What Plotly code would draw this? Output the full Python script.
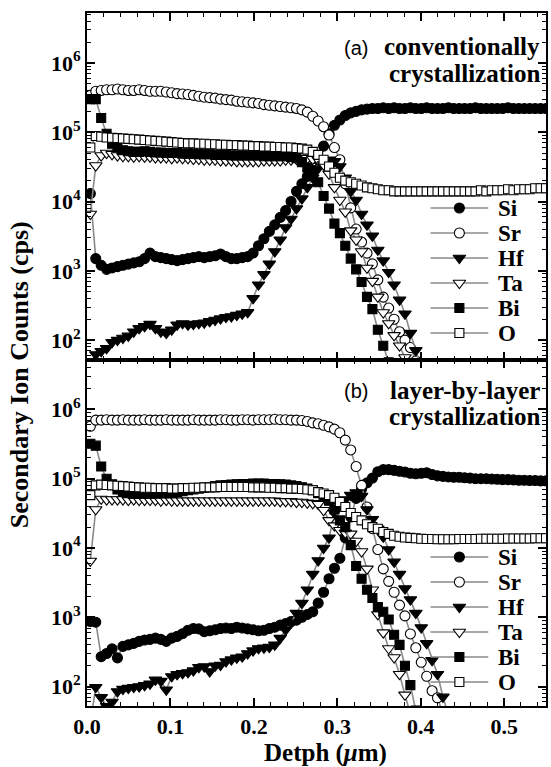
import plotly.graph_objects as go

# Sputter depth of each SIMS cycle (um)
depth = [0.0040, 0.0105, 0.0170, 0.0235, 0.0300, 0.0365, 0.0430, 0.0495, 0.0560, 0.0625,
         0.0690, 0.0755, 0.0820, 0.0885, 0.0950, 0.1015, 0.1080, 0.1145, 0.1210, 0.1275,
         0.1340, 0.1405, 0.1470, 0.1535, 0.1600, 0.1665, 0.1730, 0.1795, 0.1860, 0.1925,
         0.1990, 0.2055, 0.2120, 0.2185, 0.2250, 0.2315, 0.2380, 0.2445, 0.2510, 0.2575,
         0.2640, 0.2705, 0.2770, 0.2835, 0.2900, 0.2965, 0.3030, 0.3095, 0.3160, 0.3225,
         0.3290, 0.3355, 0.3420, 0.3485, 0.3550, 0.3615, 0.3680, 0.3745, 0.3810, 0.3875,
         0.3940, 0.4005, 0.4070, 0.4135, 0.4200, 0.4265, 0.4330, 0.4395, 0.4460, 0.4525,
         0.4590, 0.4655, 0.4720, 0.4785, 0.4850, 0.4915, 0.4980, 0.5045, 0.5110, 0.5175,
         0.5240, 0.5305, 0.5370, 0.5435, 0.5500]

# (a) conventionally crystallized film, counts per second
si_a = [1.3e4, 1.5e3, 1.2e3, 1.05e3, 1.1e3, 1.15e3, 1.2e3, 1.25e3, 1.3e3, 1.35e3,
        1.5e3, 1.8e3, 1.6e3, 1.55e3, 1.5e3, 1.45e3, 1.4e3, 1.45e3, 1.5e3, 1.55e3,
        1.6e3, 1.55e3, 1.6e3, 1.65e3, 1.75e3, 1.6e3, 1.5e3, 1.5e3, 1.55e3, 1.6e3,
        1.8e3, 2.3e3, 2.9e3, 3.7e3, 4.6e3, 5.9e3, 7.4e3, 1.0e4, 1.4e4, 1.8e4,
        2.3e4, 2.8e4, 4.0e4, 6.3e4, 9.5e4, 1.26e5, 1.5e5, 1.74e5, 1.9e5, 2.0e5,
        2.1e5, 2.15e5, 2.2e5, 2.2e5, 2.25e5, 2.2e5, 2.25e5, 2.2e5, 2.2e5, 2.25e5,
        2.2e5, 2.2e5, 2.25e5, 2.2e5, 2.2e5, 2.2e5, 2.25e5, 2.2e5, 2.2e5, 2.2e5,
        2.2e5, 2.25e5, 2.2e5, 2.2e5, 2.2e5, 2.2e5, 2.2e5, 2.25e5, 2.2e5, 2.2e5,
        2.2e5, 2.2e5, 2.2e5, 2.2e5, 2.2e5]
sr_a = [3.4e5, 3.9e5, 4.0e5, 4.1e5, 4.1e5, 4.2e5, 4.1e5, 4.0e5, 4.0e5, 4.1e5,
        4.0e5, 3.9e5, 3.9e5, 3.9e5, 3.8e5, 3.7e5, 3.6e5, 3.55e5, 3.5e5, 3.4e5,
        3.3e5, 3.2e5, 3.15e5, 3.1e5, 3.0e5, 2.95e5, 2.9e5, 2.8e5, 2.75e5, 2.7e5,
        2.65e5, 2.6e5, 2.5e5, 2.45e5, 2.4e5, 2.35e5, 2.3e5, 2.25e5, 2.2e5, 2.1e5,
        1.95e5, 1.7e5, 1.45e5, 1.2e5, 9.1e4, 6.0e4, 4.0e4, 1.8e4, 8.1e3, 4.0e3,
        2.6e3, 1.8e3, 1.26e3, 740, 417, 290, 200, 132, 100, 78, 50]
hf_a = [40, 62, 69, 76, 93, 100, 107, 115, 132, 148,
        158, 170, 148, 132, 126, 141, 166, 174, 166, 170,
        174, 178, 186, 195, 204, 214, 219, 229, 240, 251,
        400, 630, 890, 1.26e3, 1.9e3, 2.8e3, 4.2e3, 5.6e3, 7.9e3, 1.1e4,
        1.6e4, 2.2e4, 3.0e4, 3.6e4, 4.0e4, 3.8e4, 3.2e4, 2.2e4, 1.4e4, 1.05e4,
        6.6e3, 4.6e3, 3.2e3, 2.0e3, 1.4e3, 955, 630, 380, 240, 126, 71, 40]
ta_a = [6.6e3, 3.3e4, 4.6e4, 5.0e4, 4.8e4, 4.6e4, 4.5e4, 4.5e4, 4.4e4, 4.5e4,
        4.4e4, 4.4e4, 4.3e4, 4.3e4, 4.3e4, 4.2e4, 4.3e4, 4.2e4, 4.2e4, 4.1e4,
        4.1e4, 4.0e4, 4.0e4, 4.0e4, 3.9e4, 3.9e4, 3.9e4, 3.8e4, 3.8e4, 3.8e4,
        3.8e4, 3.8e4, 3.9e4, 3.9e4, 3.9e4, 3.9e4, 4.0e4, 4.0e4, 4.1e4, 4.1e4,
        4.2e4, 4.1e4, 4.0e4, 3.4e4, 2.5e4, 1.6e4, 1.05e4, 7.1e3, 3.8e3, 2.8e3,
        1.9e3, 1.1e3, 710, 420, 250, 174, 117, 83, 56, 40]
bi_a = [3.0e5, 3.0e5, 1.6e5, 9.5e4, 6.8e4, 6.0e4, 5.5e4, 5.3e4, 5.2e4, 5.2e4,
        5.3e4, 5.2e4, 5.1e4, 5.1e4, 5.0e4, 5.0e4, 5.0e4, 4.9e4, 4.9e4, 4.9e4,
        4.8e4, 4.8e4, 4.8e4, 4.7e4, 4.7e4, 4.7e4, 4.6e4, 4.6e4, 4.6e4, 4.6e4,
        4.6e4, 4.6e4, 4.5e4, 4.5e4, 4.5e4, 4.5e4, 4.5e4, 4.4e4, 4.2e4, 3.7e4,
        3.1e4, 2.5e4, 1.9e4, 1.2e4, 7.9e3, 4.8e3, 3.5e3, 2.3e3, 1.5e3, 1.05e3,
        690, 420, 280, 141, 83, 48]
o_a = [6.0e4, 8.8e4, 8.6e4, 8.4e4, 8.3e4, 8.2e4, 8.1e4, 8.0e4, 7.9e4, 7.8e4,
       7.7e4, 7.6e4, 7.5e4, 7.4e4, 7.3e4, 7.2e4, 7.1e4, 7.0e4, 6.9e4, 6.9e4,
       6.8e4, 6.8e4, 6.7e4, 6.7e4, 6.6e4, 6.6e4, 6.5e4, 6.5e4, 6.4e4, 6.4e4,
       6.3e4, 6.3e4, 6.2e4, 6.2e4, 6.1e4, 6.1e4, 6.0e4, 6.0e4, 5.9e4, 5.8e4,
       5.6e4, 5.2e4, 4.7e4, 4.0e4, 3.2e4, 2.6e4, 2.2e4, 2.0e4, 1.9e4, 1.8e4,
       1.7e4, 1.6e4, 1.55e4, 1.5e4, 1.45e4, 1.45e4, 1.4e4, 1.4e4, 1.4e4, 1.4e4,
       1.4e4, 1.4e4, 1.4e4, 1.4e4, 1.4e4, 1.4e4, 1.4e4, 1.4e4, 1.4e4, 1.4e4,
       1.4e4, 1.4e4, 1.45e4, 1.4e4, 1.45e4, 1.45e4, 1.45e4, 1.5e4, 1.45e4, 1.5e4,
       1.5e4, 1.5e4, 1.55e4, 1.55e4, 1.55e4]

# (b) layer-by-layer crystallized film, counts per second
si_b = [870, 850, 270, 300, 350, 260, 380, 400, 420, 450,
        470, 480, 500, 480, 450, 500, 530, 580, 650, 690,
        680, 620, 640, 660, 690, 700, 690, 720, 700, 680,
        660, 640, 650, 690, 720, 770, 810, 870, 910, 1.0e3,
        1.1e3, 1.2e3, 1.6e3, 2.3e3, 3.6e3, 5.1e3, 7.1e3, 1.4e4, 2.8e4, 5.2e4,
        7.1e4, 8.7e4, 1.02e5, 1.26e5, 1.35e5, 1.35e5, 1.32e5, 1.28e5, 1.25e5, 1.2e5,
        1.18e5, 1.2e5, 1.22e5, 1.15e5, 1.1e5, 1.08e5, 1.06e5, 1.05e5, 1.05e5, 1.03e5,
        1.02e5, 1.0e5, 1.0e5, 1.0e5, 9.9e4, 9.8e4, 9.7e4, 9.7e4, 9.6e4, 9.5e4,
        9.5e4, 9.4e4, 9.4e4, 9.3e4, 9.3e4]
sr_b = [5.7e5, 7.0e5, 7.0e5, 7.1e5, 7.0e5, 7.0e5, 7.1e5, 7.0e5, 7.0e5, 7.0e5,
        7.1e5, 7.0e5, 7.0e5, 7.0e5, 7.1e5, 7.0e5, 7.0e5, 7.0e5, 7.0e5, 7.1e5,
        7.0e5, 7.0e5, 7.0e5, 7.0e5, 7.1e5, 7.1e5, 7.0e5, 7.0e5, 7.1e5, 7.1e5,
        7.0e5, 7.1e5, 7.1e5, 7.1e5, 7.2e5, 7.1e5, 7.1e5, 7.0e5, 7.0e5, 6.9e5,
        6.7e5, 6.4e5, 6.2e5, 5.9e5, 5.6e5, 5.2e5, 4.6e5, 3.6e5, 2.6e5, 1.5e5,
        8.0e4, 3.9e4, 1.9e4, 9.5e3, 5.0e3, 3.3e3, 2.3e3, 1.5e3, 1.05e3, 575,
        363, 224, 141, 87, 69, 40]
hf_b = [30, 98, 70, 52, 60, 85, 92, 95, 98, 100,
        104, 110, 125, 120, 90, 140, 150, 155, 160, 170,
        190, 195, 165, 200, 205, 230, 245, 260, 270, 300,
        330, 355, 363, 372, 400, 500, 660, 830, 1.15e3, 1.6e3,
        2.5e3, 4.2e3, 6.6e3, 1.0e4, 1.4e4, 3.2e4, 4.2e4, 5.0e4, 5.8e4, 6.3e4,
        5.6e4, 3.6e4, 2.6e4, 1.9e4, 1.45e4, 9.5e3, 6.3e3, 4.2e3, 2.6e3, 1.8e3,
        1.15e3, 710, 420, 240, 151, 71, 40]
ta_b = [6.5e3, 3.6e4, 5.1e4, 5.0e4, 5.0e4, 5.0e4, 5.0e4, 4.9e4, 5.0e4, 4.9e4,
        4.9e4, 4.9e4, 4.9e4, 4.8e4, 4.9e4, 4.8e4, 4.8e4, 4.8e4, 4.8e4, 4.8e4,
        4.8e4, 4.8e4, 4.8e4, 4.8e4, 4.8e4, 4.8e4, 4.8e4, 4.8e4, 4.8e4, 4.8e4,
        4.8e4, 4.8e4, 4.8e4, 4.8e4, 4.8e4, 4.7e4, 4.7e4, 4.7e4, 4.6e4, 4.6e4,
        4.5e4, 4.4e4, 4.3e4, 3.5e4, 2.5e4, 2.1e4, 1.8e4, 1.65e4, 1.6e4, 1.26e4,
        8.9e3, 5.0e3, 2.5e3, 1.1e3, 600, 355, 263, 151, 76, 40]
bi_b = [3.2e5, 3.0e5, 1.5e5, 1.0e5, 8.3e4, 7.0e4, 6.5e4, 6.2e4, 6.0e4, 6.0e4,
        6.0e4, 6.0e4, 6.1e4, 6.1e4, 6.2e4, 6.3e4, 6.4e4, 6.6e4, 6.8e4, 7.0e4,
        7.2e4, 7.4e4, 7.6e4, 7.8e4, 8.0e4, 8.1e4, 8.2e4, 8.3e4, 8.4e4, 8.4e4,
        8.5e4, 8.5e4, 8.5e4, 8.4e4, 8.4e4, 8.3e4, 8.2e4, 8.0e4, 7.8e4, 7.5e4,
        7.2e4, 6.8e4, 6.2e4, 5.6e4, 4.8e4, 3.6e4, 2.5e4, 2.0e4, 1.1e4, 5.5e3,
        3.6e3, 2.5e3, 1.9e3, 1.4e3, 1.2e3, 930, 560, 400, 200, 105, 45]
o_b = [5.8e4, 8.0e4, 8.2e4, 8.1e4, 8.0e4, 7.9e4, 7.8e4, 7.7e4, 7.6e4, 7.5e4,
       7.4e4, 7.4e4, 7.3e4, 7.3e4, 7.3e4, 7.2e4, 7.2e4, 7.3e4, 7.3e4, 7.4e4,
       7.4e4, 7.5e4, 7.5e4, 7.5e4, 7.6e4, 7.6e4, 7.6e4, 7.6e4, 7.6e4, 7.6e4,
       7.5e4, 7.5e4, 7.5e4, 7.4e4, 7.4e4, 7.3e4, 7.3e4, 7.2e4, 7.2e4, 7.1e4,
       7.0e4, 6.8e4, 6.4e4, 6.1e4, 5.8e4, 5.3e4, 4.6e4, 3.9e4, 3.2e4, 2.8e4,
       2.5e4, 2.2e4, 2.0e4, 1.9e4, 1.7e4, 1.6e4, 1.5e4, 1.45e4, 1.42e4, 1.4e4,
       1.38e4, 1.36e4, 1.35e4, 1.35e4, 1.34e4, 1.34e4, 1.34e4, 1.34e4, 1.35e4, 1.35e4,
       1.35e4, 1.35e4, 1.36e4, 1.36e4, 1.36e4, 1.36e4, 1.36e4, 1.37e4, 1.37e4, 1.37e4,
       1.37e4, 1.37e4, 1.38e4, 1.38e4, 1.38e4]

elements = ["Si", "Sr", "Hf", "Ta", "Bi", "O"]
panel_a = [si_a, sr_a, hf_a, ta_a, bi_a, o_a]
panel_b = [si_b, sr_b, hf_b, ta_b, bi_b, o_b]

x_ticks = [0.0, 0.1, 0.2, 0.3, 0.4, 0.5]
x_ticktext = ["0.0", "0.1", "0.2", "0.3", "0.4", "0.5"]
y_ticks = [1e2, 1e3, 1e4, 1e5, 1e6]
y_ticktext = ["10<sup>2</sup>", "10<sup>3</sup>", "10<sup>4</sup>", "10<sup>5</sup>", "10<sup>6</sup>"]

# marker style per element: (symbol, fill)
styles = {
    "Si": ("circle", "black"),
    "Sr": ("circle", "white"),
    "Hf": ("triangle-down", "black"),
    "Ta": ("triangle-down", "white"),
    "Bi": ("square", "black"),
    "O": ("square", "white"),
}
sizes = {"circle": 10, "triangle-down": 11, "square": 9}
LINE = dict(color="#8a8a8a", width=1.6)

W, H = 551, 767
ML, MR, MT, MB = 87, 3, 13, 61
serif = "Liberation Serif"

fig = go.Figure()

for series, xa, ya in [(panel_a, "x", "y"), (panel_b, "x2", "y2")]:
    for name, vals in zip(elements, series):
        sym, fill = styles[name]
        fig.add_trace(go.Scatter(
            x=depth[:len(vals)], y=vals, name=name, mode="lines+markers",
            xaxis=xa, yaxis=ya, showlegend=False,
            line=LINE,
            marker=dict(symbol=sym, size=sizes[sym], color=fill,
                        line=dict(color="black", width=1.1)),
        ))

# Legend keys are drawn on an overlay frame measured in page pixels
LEG_X0, LEG_X1, LEG_TXT = 432, 490, 498
LEG_ROW0 = {"a": 208, "b": 557}
LEG_STEP = 25
for panel in ("a", "b"):
    for k, name in enumerate(elements):
        sym, fill = styles[name]
        yrow = LEG_ROW0[panel] + k * LEG_STEP
        fig.add_trace(go.Scatter(x=[LEG_X0, LEG_X1], y=[yrow, yrow], mode="lines",
                                 xaxis="x3", yaxis="y3", showlegend=False,
                                 line=LINE, hoverinfo="skip"))
        fig.add_trace(go.Scatter(x=[(LEG_X0 + LEG_X1) / 2], y=[yrow], mode="markers",
                                 xaxis="x3", yaxis="y3", showlegend=False, hoverinfo="skip",
                                 marker=dict(symbol=sym, size=sizes[sym], color=fill,
                                             line=dict(color="black", width=1.1))))
        fig.add_annotation(text=name, x=LEG_TXT, y=yrow, xref="x3", yref="y3",
                           showarrow=False, xanchor="left", yanchor="middle",
                           font=dict(family=serif, size=23, color="black", weight="bold"))

minor_y = [m * 10 ** e for e in range(1, 7) for m in range(2, 10)]

axis_common = dict(
    showline=True, linecolor="black", linewidth=2, mirror="allticks",
    ticks="inside", ticklen=8, tickwidth=1.5, tickcolor="black",
    showgrid=False, zeroline=False,
    tickfont=dict(family=serif, size=22, color="black", weight="bold"),
)
xaxis_common = dict(axis_common, range=[0, 0.55], tickvals=x_ticks, ticktext=x_ticktext,
                    minor=dict(ticks="inside", ticklen=4, tickwidth=1.2, tickcolor="black",
                               dtick=0.02, tick0=0, showgrid=False))
yaxis_common = dict(axis_common, type="log", range=[1.72, 6.72], tickvals=y_ticks,
                    ticktext=y_ticktext,
                    minor=dict(ticks="inside", ticklen=4, tickwidth=1.1, tickcolor="black",
                               tickmode="array", tickvals=minor_y, showgrid=False))

fig.update_layout(
    width=W, height=H,
    margin=dict(l=ML, r=MR, t=MT, b=MB),
    paper_bgcolor="white", plot_bgcolor="rgba(0,0,0,0)",
    xaxis=dict(xaxis_common, anchor="y", showticklabels=False),
    yaxis=dict(yaxis_common, domain=[0.5, 1.0], anchor="x"),
    xaxis2=dict(xaxis_common, anchor="y2"),
    yaxis2=dict(yaxis_common, domain=[0.0, 0.5], anchor="x2"),
    xaxis3=dict(domain=[0, 1], range=[ML, W - MR], visible=False, anchor="y3",
                fixedrange=True),
    yaxis3=dict(domain=[0, 1], range=[H - MB, MT], visible=False, anchor="x3",
                fixedrange=True),
    showlegend=False,
)

PW = W - ML - MR
PH = H - MT - MB


def px(xp, yp):
    """Convert page pixels to paper coordinates."""
    return (xp - ML) / PW, (H - MB - yp) / PH


def note(text, xp, yp, size, family, bold=True, anchor="right", angle=0):
    x, y = px(xp, yp)
    fig.add_annotation(
        text=text, x=x, y=y, xref="paper", yref="paper", showarrow=False,
        xanchor=anchor, yanchor="middle", textangle=angle,
        font=dict(family=family, size=size, color="black", weight="bold" if bold else "normal"),
    )


note("(a)", 371, 48, 20, "Liberation Sans", bold=False)
note("conventionally", 544, 47, 25, serif)
note("crystallization", 544, 74, 25, serif)
note("(b)", 371, 391, 20, "Liberation Sans", bold=False)
note("layer-by-layer", 544, 390, 25, serif)
note("crystallization", 544, 417, 25, serif)
note("Secondary Ion Counts (cps)", 19, 375, 26, serif, anchor="center", angle=-90)
note("Detph (<i>\u03bc</i>m)", 327, 753, 25, serif, anchor="center")

fig.write_html("out.html")
